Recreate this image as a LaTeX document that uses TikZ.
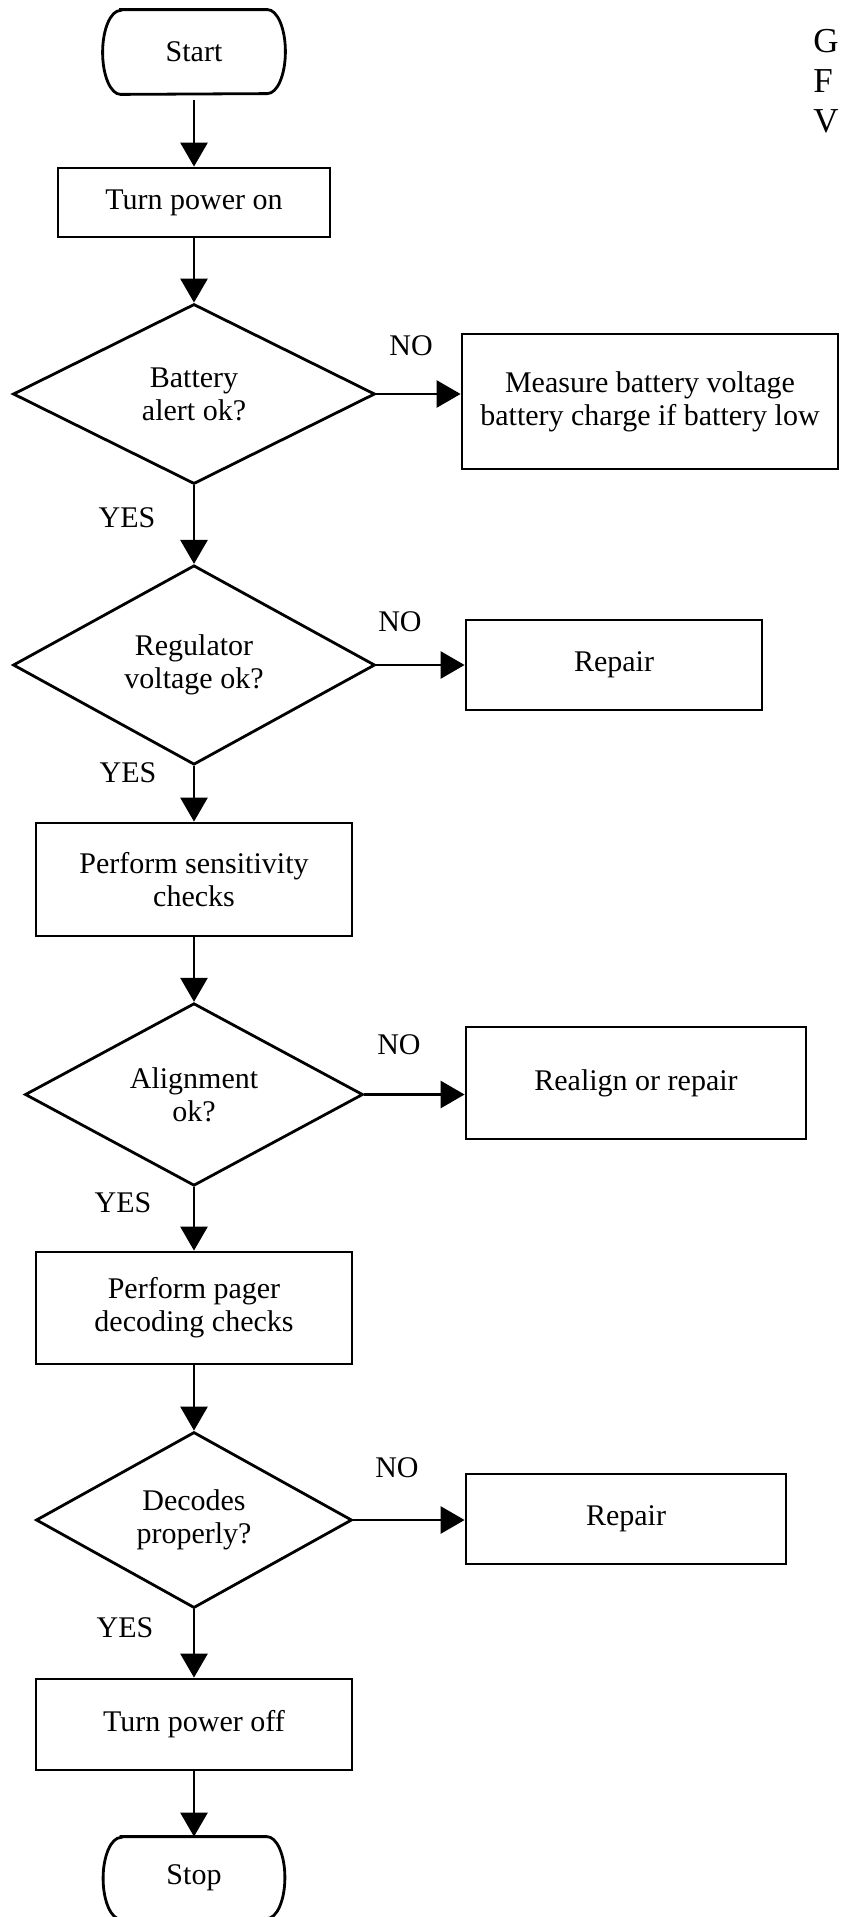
\documentclass[tikz,border=0pt]{standalone}
\usepackage{fontspec}
\setmainfont{Liberation Serif}
\usetikzlibrary{arrows.meta,shapes.geometric}
\tikzset{
  base/.style={draw=black, line width=1.4pt, inner sep=0pt, align=center,
    font=\fontsize{15}{16.5}\selectfont},
  term/.style={inner sep=0pt, align=center, font=\fontsize{15}{16.5}\selectfont},
  termline/.style={line width=1.4pt},
  proc/.style={base, rectangle},
  dec/.style={base, diamond},
  conn/.style={line width=1.4pt, -{Triangle[length=12pt,width=13.5pt]}},
  lbl/.style={inner sep=0pt, font=\fontsize{15}{16.5}\selectfont},
  big/.style={inner sep=0pt, anchor=base west, font=\fontsize{17.5}{19}\selectfont}
}
\begin{document}
\begin{tikzpicture}[x=0.5pt,y=-0.5pt]
\useasboundingbox (0,0) rectangle (841,1917);
% nodes
\node[term, minimum width=91pt, minimum height=42pt] (start) at (194,52) {Start};
\draw[termline] ([xshift=9pt]start.north west) -- ([xshift=-9pt]start.north east)
  arc[start angle=90, end angle=-90, x radius=9pt, y radius=21pt]
  -- ([xshift=9pt]start.south west)
  arc[start angle=270, end angle=90, x radius=9pt, y radius=21pt] -- cycle;
\node[proc, minimum width=136pt, minimum height=34.5pt] (on) at (194,202.5) {Turn power on};
\node[dec, minimum width=181pt, minimum height=90pt] (bat) at (194,394) {Battery\\alert ok?};
\node[proc, minimum width=188pt, minimum height=67.5pt] (meas) at (650,401.5) {Measure battery voltage\\battery charge if battery low};
\node[dec, minimum width=181pt, minimum height=90pt] (reg) at (194,665) {Regulator\\voltage ok?};
\node[proc, minimum width=148pt, minimum height=45pt] (rep1) at (614,665) {Repair};
\node[proc, minimum width=158pt, minimum height=56.5pt] (sens) at (194,879.5) {Perform sensitivity\\checks};
\node[dec, minimum width=169pt, minimum height=89.5pt] (ali) at (194,1094.5) {Alignment\\ok?};
\node[proc, minimum width=170pt, minimum height=56pt] (real) at (636,1083) {Realign or repair};
\node[proc, minimum width=158pt, minimum height=56pt] (pager) at (194,1308) {Perform pager\\decoding checks};
\node[dec, minimum width=158pt, minimum height=88pt] (dec) at (194,1520) {Decodes\\properly?};
\node[proc, minimum width=160pt, minimum height=45pt] (rep2) at (626,1519) {Repair};
\node[proc, minimum width=158pt, minimum height=45.5pt] (off) at (194,1724.5) {Turn power off};
\node[term, minimum width=90.5pt, minimum height=41pt] (stop) at (194,1878) {Stop};
\draw[termline] ([xshift=9pt]stop.north west) -- ([xshift=-9pt]stop.north east)
  arc[start angle=90, end angle=-90, x radius=9pt, y radius=20.5pt]
  -- ([xshift=9pt]stop.south west)
  arc[start angle=270, end angle=90, x radius=9pt, y radius=20.5pt] -- cycle;
% labels
\node[lbl] (no1) at (411,346) {NO};
\node[lbl] (no2) at (400,622) {NO};
\node[lbl] (no3) at (399,1045) {NO};
\node[lbl] (no4) at (397,1468) {NO};
\node[lbl] (yes1) at (127,518) {YES};
\node[lbl] (yes2) at (128,773) {YES};
\node[lbl] (yes3) at (123,1203) {YES};
\node[lbl] (yes4) at (125,1628) {YES};
\node[big] (g) at (813,52) {G};
\node[big] (f) at (813,92) {F};
\node[big] (v) at (813,132) {V};
% connectors
\draw[conn, shorten <=3pt] (start) -- (on);
\draw[conn] (on) -- (bat);
\draw[conn] (bat.east) -- (bat.east -| meas.west);
\draw[conn] (bat) -- (reg);
\draw[conn] (reg.east) -- (rep1.west);
\draw[conn] (reg) -- (sens);
\draw[conn] (sens) -- (ali);
\draw[conn] (ali.east) -- (ali.east -| real.west);
\draw[conn] (ali) -- (pager);
\draw[conn] (pager) -- (dec);
\draw[conn] (dec.east) -- (dec.east -| rep2.west);
\draw[conn] (dec) -- (off);
\draw[conn] (off) -- (stop);
\end{tikzpicture}
\end{document}
